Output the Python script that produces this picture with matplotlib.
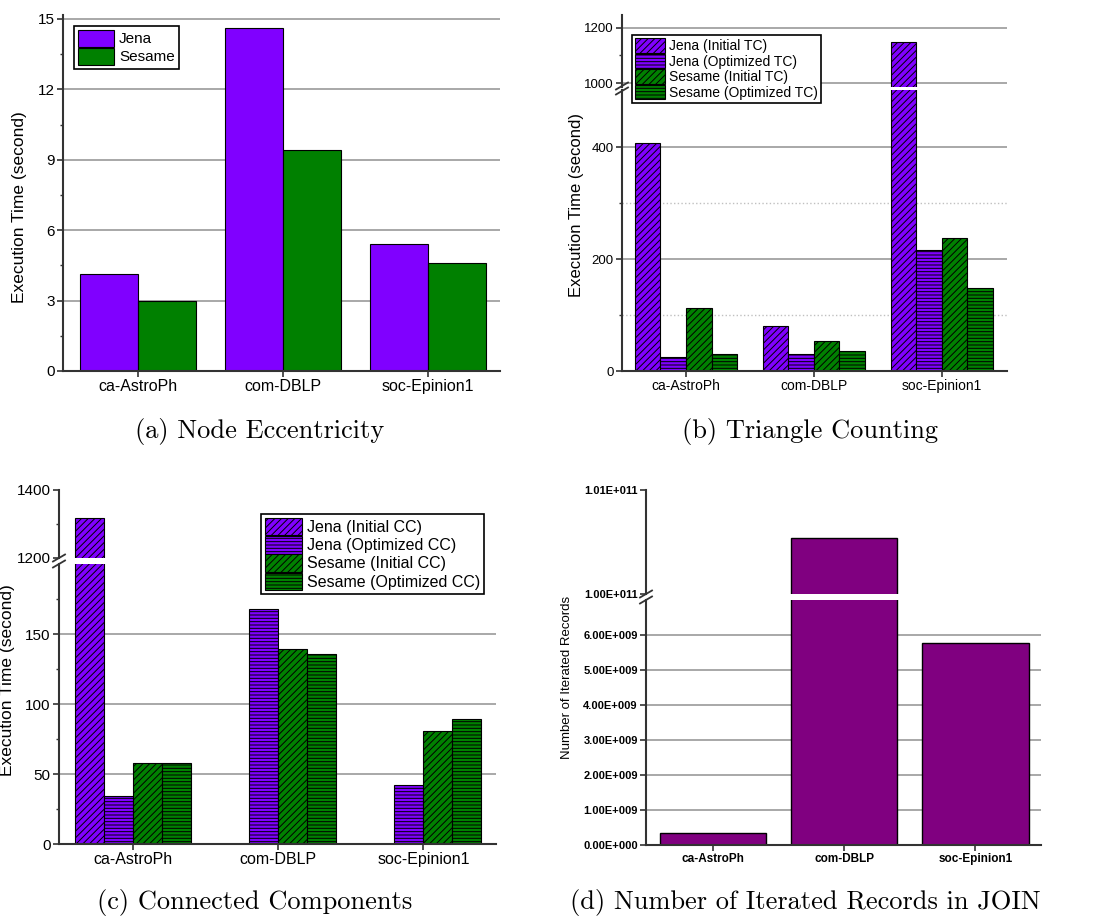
import numpy as np
import matplotlib.pyplot as plt
from matplotlib.lines import Line2D
from matplotlib.ticker import MultipleLocator, FixedLocator, FuncFormatter

plt.rcParams['font.family'] = ['Liberation Sans', 'DejaVu Sans']
plt.rcParams['hatch.linewidth'] = 0.7

W, H = 1099, 919

datasets = ['ca-AstroPh', 'com-DBLP', 'soc-Epinion1']

# (a) Node eccentricity, seconds
ecc_jena = [4.15, 14.6, 5.4]
ecc_sesame = [3.0, 9.4, 4.6]

# (b) Triangle counting, seconds
tc_jena_init = [408, 80, 1150]
tc_jena_opt = [25, 30, 216]
tc_sesame_init = [112, 53, 237]
tc_sesame_opt = [30, 36, 148]

# (c) Connected components, seconds (no initial-CC run for two datasets)
cc_jena_init = [1318, np.nan, np.nan]
cc_jena_opt = [34, 168, 42]
cc_sesame_init = [58, 139, 81]
cc_sesame_opt = [58, 136, 89]

# (d) Iterated records in JOIN
join_records = [3.5e8, 1.0054e11, 5.77e9]

PURPLE = '#8000ff'
GREEN = '#008000'
PLUM = '#800080'
SPINE = '#333333'
GRID = '#9a9a9a'

fig = plt.figure(figsize=(W / 100, H / 100), dpi=100)


def px_axes(x0, y0, x1, y1):
    # axes from pixel box (top-left origin)
    return fig.add_axes([x0 / W, 1 - y1 / H, (x1 - x0) / W, (y1 - y0) / H])


def style(ax, fs, upper=False):
    for s in ['top', 'right']:
        ax.spines[s].set_visible(False)
    for s in ['left', 'bottom']:
        ax.spines[s].set_color(SPINE)
        ax.spines[s].set_linewidth(1.5)
    ax.tick_params(direction='out', labelsize=fs, width=1.2, length=4, color=SPINE, pad=2)
    ax.tick_params(which='minor', direction='out', width=1.0, length=2.5, color=SPINE)
    ax.set_axisbelow(True)
    if upper:
        ax.spines['bottom'].set_visible(False)
        ax.tick_params(axis='x', bottom=False, labelbottom=False)
    else:
        ax.set_xticks(range(len(datasets)))
        ax.set_xticklabels(datasets)


def grouped(ax, series, width):
    x = np.arange(len(datasets))
    n = len(series)
    for i, (label, vals, color, hatch) in enumerate(series):
        ax.bar(x + (i - (n - 1) / 2) * width, vals, width, color=color,
               edgecolor='black', linewidth=0.8, hatch=hatch, label=label)


def break_marks(x, ys):
    for y in ys:
        fig.add_artist(Line2D([(x - 6) / W, (x + 6) / W], [1 - (y + 3.5) / H, 1 - (y - 3.5) / H],
                              transform=fig.transFigure, color=SPINE, lw=1.3))


def legend(ax, anchor_px, fs, hl, hh):
    handles, labels = ax.get_legend_handles_labels()
    leg = fig.legend(handles, labels, loc='upper left', bbox_to_anchor=(anchor_px[0] / W, 1 - anchor_px[1] / H),
                     bbox_transform=fig.transFigure, fontsize=fs, frameon=True, fancybox=False,
                     edgecolor='black', framealpha=1, handlelength=hl, handleheight=hh,
                     labelspacing=0.05, borderpad=0.25, handletextpad=0.3, borderaxespad=0)
    leg.get_frame().set_linewidth(1.2)
    return leg


# ---------- (a) ----------
ax_a = px_axes(63, 15, 500, 371)
grouped(ax_a, [('Jena', ecc_jena, PURPLE, None), ('Sesame', ecc_sesame, GREEN, None)], 0.4)
style(ax_a, 11)
ax_a.tick_params(axis='x', labelsize=11.5)
ax_a.set_xlim(-0.52, 2.5)
ax_a.set_ylim(0, 15.17)
ax_a.yaxis.set_major_locator(MultipleLocator(3))
ax_a.yaxis.set_minor_locator(MultipleLocator(1.5))
ax_a.yaxis.grid(True, color=GRID, lw=1.2)
legend(ax_a, (74, 26), 11, 2.4, 1.35)
fig.text(20 / W, 1 - 207 / H, 'Execution Time (second)', rotation=90, ha='center', va='center', fontsize=12.5)

# ---------- (b) ----------
tc_series = [('Jena (Initial TC)', tc_jena_init, PURPLE, '/////'),
             ('Jena (Optimized TC)', tc_jena_opt, PURPLE, '-----'),
             ('Sesame (Initial TC)', tc_sesame_init, GREEN, '/////'),
             ('Sesame (Optimized TC)', tc_sesame_opt, GREEN, '-----')]
ax_bl = px_axes(622, 90, 1007, 371)
ax_bu = px_axes(622, 15, 1007, 87)
for ax in (ax_bl, ax_bu):
    grouped(ax, tc_series, 0.2)
    ax.set_xlim(-0.5, 2.51)
style(ax_bl, 9.5)
style(ax_bu, 9.5, upper=True)
ax_bl.tick_params(axis='x', labelsize=10)
ax_bl.set_ylim(0, 502)
ax_bl.yaxis.set_major_locator(FixedLocator([0, 200, 400]))
ax_bl.yaxis.set_minor_locator(FixedLocator([100, 300]))
ax_bl.yaxis.grid(True, color=GRID, lw=1.2)
ax_bl.yaxis.grid(True, which='minor', color='#c0c0c0', ls=':', lw=1)
ax_bu.set_ylim(985.5, 1247)
ax_bu.yaxis.set_major_locator(FixedLocator([1000, 1200]))
ax_bu.yaxis.set_minor_locator(FixedLocator([1100]))
ax_bu.yaxis.grid(True, color=GRID, lw=1.2)
break_marks(622, [86, 91])
legend(ax_bl, (632, 35), 10, 2.1, 1.2)
fig.text(577 / W, 1 - 205 / H, 'Execution Time (second)', rotation=90, ha='center', va='center', fontsize=12)

# ---------- (c) ----------
cc_series = [('Jena (Initial CC)', cc_jena_init, PURPLE, '/////'),
             ('Jena (Optimized CC)', cc_jena_opt, PURPLE, '-----'),
             ('Sesame (Initial CC)', cc_sesame_init, GREEN, '/////'),
             ('Sesame (Optimized CC)', cc_sesame_opt, GREEN, '-----')]
ax_cl = px_axes(59, 564, 496, 844)
ax_cu = px_axes(59, 490, 496, 558)
for ax in (ax_cl, ax_cu):
    grouped(ax, cc_series, 0.2)
    ax.set_xlim(-0.51, 2.5)
style(ax_cl, 11)
style(ax_cu, 11, upper=True)
ax_cl.tick_params(axis='x', labelsize=11.5)
ax_cl.set_ylim(0, 200)
ax_cl.yaxis.set_major_locator(FixedLocator([0, 50, 100, 150]))
ax_cl.yaxis.set_minor_locator(FixedLocator([25, 75, 125, 175]))
ax_cl.yaxis.grid(True, color=GRID, lw=1.2)
ax_cu.set_ylim(1200, 1400)
ax_cu.yaxis.set_major_locator(FixedLocator([1200, 1400]))
ax_cu.yaxis.set_minor_locator(FixedLocator([1300]))
break_marks(59, [558, 564])
legend(ax_cl, (261, 514), 11.5, 2.3, 1.3)
fig.text(15 / W, 1 - 680 / H, 'Execution Time (second)', rotation=90, ha='right', va='center', fontsize=12.5)

# ---------- (d) ----------
def sci_fmt(v, pos):
    if v == 0:
        return '0.00E+000'
    e = int(np.floor(np.log10(abs(v)) + 1e-9))
    return f'{v / 10 ** e:.2f}E+{e:03d}'


ax_dl = px_axes(646, 600, 1041, 845)
ax_du = px_axes(646, 490, 1041, 594)
for ax in (ax_dl, ax_du):
    ax.bar(np.arange(len(datasets)), join_records, 0.81, color=PLUM, edgecolor='black', linewidth=1.0)
    ax.set_xlim(-0.51, 2.5)
style(ax_dl, 8)
style(ax_du, 8, upper=True)
ax_dl.tick_params(axis='x', labelsize=8.5)
ax_dl.set_ylim(0, 7e9)
ax_dl.yaxis.set_major_locator(FixedLocator([0, 1e9, 2e9, 3e9, 4e9, 5e9, 6e9]))
ax_dl.yaxis.set_major_formatter(FuncFormatter(sci_fmt))
ax_dl.yaxis.grid(True, color=GRID, lw=1.2)
ax_dl.yaxis.offsetText.set_visible(False)
ax_du.set_ylim(1.00e11, 1.01e11)
ax_du.yaxis.set_major_locator(FixedLocator([1.00e11, 1.01e11]))
ax_du.yaxis.set_major_formatter(FuncFormatter(sci_fmt))
ax_du.yaxis.offsetText.set_visible(False)
for ax in (ax_dl, ax_du):
    for lbl in ax.get_yticklabels():
        lbl.set_fontweight('bold')
for lbl in ax_dl.get_xticklabels():
    lbl.set_fontweight('bold')
break_marks(646, [594, 600])
fig.text(567 / W, 1 - 677 / H, 'Number of Iterated Records', rotation=90, ha='center', va='center', fontsize=9.5)

# ---------- captions ----------
cap = dict(family='cmr10', fontsize=19, ha='center', va='center')
fig.text(260 / W, 1 - 431 / H, '(a) Node Eccentricity', **cap)
fig.text(810 / W, 1 - 431 / H, '(b) Triangle Counting', **cap)
fig.text(255 / W, 1 - 903 / H, '(c) Connected Components', **cap)
fig.text(805 / W, 1 - 903 / H, '(d) Number of Iterated Records in JOIN', **cap)

fig.savefig('out.png', dpi=100)
